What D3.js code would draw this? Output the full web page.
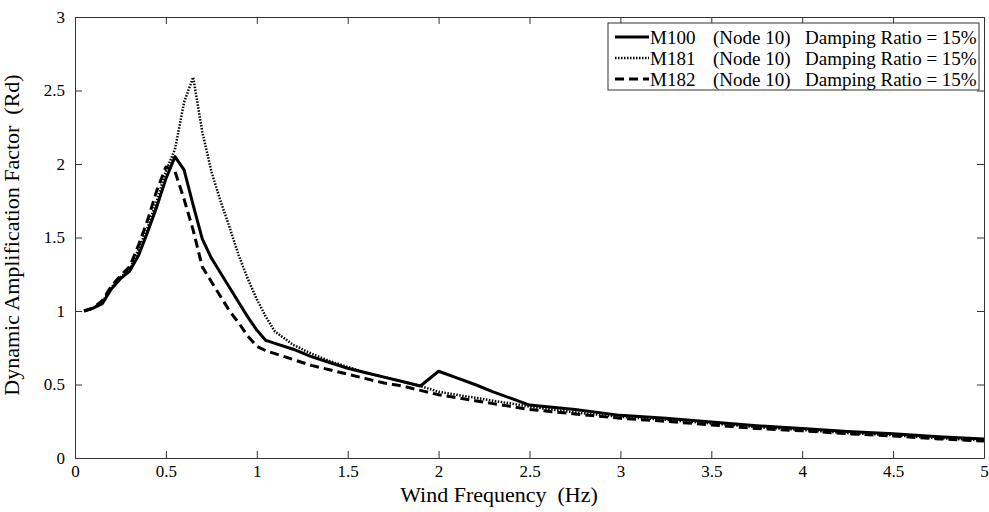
<!DOCTYPE html>
<html>
<head>
<meta charset="utf-8">
<script src="https://cdn.jsdelivr.net/npm/d3@7"></script>
<style>
  body { margin: 0; background: #fff; }
  text { font-family: "Liberation Serif", "DejaVu Serif", serif; fill: #000; white-space: pre; }
</style>
</head>
<body>
<script>
// wind frequency (Hz)
var freq = [0.05,0.1,0.15,0.2,0.25,0.3,0.35,0.4,0.45,0.5,0.55,0.6,0.65,0.7,0.75,0.8,0.85,0.9,0.95,1.0,
	1.05,1.1,1.2,1.3,1.4,1.5,1.6,1.7,1.8,1.9,2.0,2.1,2.2,2.3,2.4,2.5,2.75,3.0,3.25,3.5,3.75,4.0,4.25,4.5,4.75,5.0];

// dynamic amplification factor Rd for each model
var m100 = [1.00,1.02,1.05,1.15,1.22,1.27,1.38,1.54,1.71,1.90,2.05,1.96,1.72,1.49,1.36,1.26,1.16,1.06,0.96,0.87,
	0.80,0.78,0.74,0.69,0.65,0.61,0.58,0.55,0.52,0.49,0.59,0.545,0.50,0.45,0.405,0.36,0.33,0.29,0.27,0.245,0.22,0.20,0.18,0.165,0.145,0.13];
var m181 = [1.00,1.02,1.06,1.16,1.23,1.28,1.42,1.57,1.75,1.95,2.10,2.42,2.59,2.22,1.95,1.75,1.57,1.38,1.22,1.08,
	0.96,0.86,0.77,0.71,0.66,0.62,0.58,0.55,0.52,0.49,0.45,0.43,0.41,0.39,0.37,0.35,0.31,0.28,0.26,0.235,0.21,0.19,0.17,0.155,0.135,0.12];
var m182 = [1.00,1.02,1.07,1.17,1.24,1.30,1.45,1.62,1.82,1.98,1.95,1.76,1.55,1.30,1.20,1.10,1.00,0.92,0.83,0.76,
	0.73,0.71,0.67,0.63,0.60,0.57,0.54,0.51,0.49,0.46,0.43,0.41,0.39,0.37,0.35,0.33,0.30,0.27,0.25,0.225,0.20,0.185,0.165,0.15,0.13,0.115];

var seriesNames = ["M100", "M181", "M182"];
var nodeLabel = "(Node 10)";
var dampLabel = "Damping Ratio = 15%";
var xTicks = [0,0.5,1,1.5,2,2.5,3,3.5,4,4.5,5];
var yTicks = [0,0.5,1,1.5,2,2.5,3];

var styles = [
	{width: 3, dash: null},
	{width: 2.5, dash: "1.5,1.5"},
	{width: 3, dash: "9,5"}
];

var W = 989, H = 512;
var margin = {top: 17, right: 5, bottom: 54, left: 75};
var width = W - margin.left - margin.right,
	height = H - margin.top - margin.bottom;

var svg = d3.select("body").append("svg")
	.attr("width", W)
	.attr("height", H)
  .append("g")
	.attr("transform", "translate(" + margin.left + "," + margin.top + ")");

var x = d3.scaleLinear().domain([0, 5]).range([0, width]);
var y = d3.scaleLinear().domain([0, 3]).range([height, 0]);

//Axes with inward ticks, MATLAB style box
var xAxis = d3.axisBottom(x).tickValues(xTicks).tickSizeInner(-7).tickSizeOuter(0)
	.tickPadding(7).tickFormat(function(d) { return d; });
var yAxis = d3.axisLeft(y).tickValues(yTicks).tickSizeInner(-7).tickSizeOuter(0)
	.tickPadding(10).tickFormat(function(d) { return d; });
var xTop = d3.axisTop(x).tickValues(xTicks).tickSizeInner(-7).tickSizeOuter(0).tickFormat("");
var yRight = d3.axisRight(y).tickValues(yTicks).tickSizeInner(-7).tickSizeOuter(0).tickFormat("");

function styleAxis(g) {
	g.attr("font-family", null).attr("font-size", null);
	g.selectAll("path").attr("stroke", "#333");
	g.selectAll("line").attr("stroke", "#333");
	g.selectAll("text")
		.style("font-family", "'Liberation Serif', serif")
		.style("font-size", "17px");
}

svg.append("g").attr("transform", "translate(0," + height + ")").call(xAxis).call(styleAxis);
svg.append("g").call(yAxis).call(styleAxis);
svg.append("g").call(xTop).call(styleAxis);
svg.append("g").attr("transform", "translate(" + width + ",0)").call(yRight).call(styleAxis);

//Curves
var line = d3.line()
	.x(function(d) { return x(d[0]); })
	.y(function(d) { return y(d[1]); });

var allSeries = [m100, m181, m182].map(function(vals) {
	return vals.map(function(v, i) { return [freq[i], v]; });
});

svg.selectAll(".curve")
	.data(allSeries)
  .enter().append("path")
	.attr("class", "curve")
	.attr("fill", "none")
	.attr("stroke", "#000")
	.attr("stroke-linejoin", "round")
	.attr("stroke-width", function(d, i) { return styles[i].width; })
	.attr("stroke-dasharray", function(d, i) { return styles[i].dash; })
	.attr("d", line);

//Axis titles
svg.append("text")
	.attr("x", 499 - margin.left)
	.attr("y", height + 44)
	.attr("text-anchor", "middle")
	.attr("font-size", 22)
	.text("Wind Frequency  (Hz)");

svg.append("text")
	.attr("transform", "translate(" + (-56) + "," + (235 - margin.top) + ") rotate(-90)")
	.attr("text-anchor", "middle")
	.attr("font-size", 22)
	.text("Dynamic Amplification Factor  (Rd)");

//Legend
var lg = svg.append("g").attr("transform", "translate(" + (608 - margin.left) + "," + (23 - margin.top) + ")");
var rowH = 21;
lg.append("rect")
	.attr("width", 371)
	.attr("height", 4 + rowH * 3)
	.attr("fill", "#fff")
	.attr("stroke", "#333");

var rows = lg.selectAll(".row")
	.data(seriesNames)
  .enter().append("g")
	.attr("class", "row")
	.attr("transform", function(d, i) { return "translate(0," + (14 + i * rowH) + ")"; });

rows.append("line")
	.attr("x1", 7).attr("x2", 41)
	.attr("stroke", "#000")
	.attr("stroke-width", function(d, i) { return styles[i].width; })
	.attr("stroke-dasharray", function(d, i) { return styles[i].dash; });

rows.append("text").attr("x", 42).attr("dy", "0.35em").attr("font-size", 19).text(function(d) { return d; });
rows.append("text").attr("x", 105).attr("dy", "0.35em").attr("font-size", 19).text(nodeLabel);
rows.append("text").attr("x", 197).attr("dy", "0.35em").attr("font-size", 19).text(dampLabel);
</script>
</body>
</html>
